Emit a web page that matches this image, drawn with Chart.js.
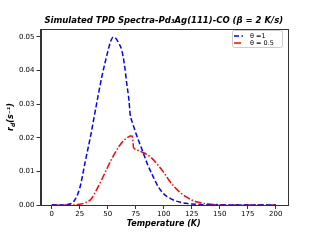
<!DOCTYPE html>
<html lang="en">

<head>
  <meta charset="UTF-8">
  <title>TPD spectra</title>
  <script src="https://cdn.jsdelivr.net/npm/chart.js"></script>
  <style>
    html, body { margin: 0; padding: 0; background: #fff; }
    #wrap { width: 320px; height: 240px; }
  </style>
</head>

<body>
  <div id="wrap"><canvas id="tpdChart" width="320" height="240"></canvas></div>

  <script>
    // temperatures (K) shared by both curves
    const temps = [0, 5, 10, 15, 20, 25, 30, 35, 40, 45, 50,
      52.5, 55, 57.5, 60, 62.5, 65,
      67, 69, 70, 71, 72, 73, 74, 76,
      80, 85, 90, 95, 100, 105, 110, 115, 120, 125, 130, 135, 140,
      150, 160, 170, 180, 190, 200];
    // desorption rate, theta = 1
    const rateTheta1 = [0, 0, 0, 0.0002, 0.0012, 0.005, 0.013, 0.021, 0.030, 0.0385, 0.0455,
      0.0485, 0.0499, 0.0494, 0.048, 0.046, 0.0415,
      0.036, 0.031, 0.027, 0.0255, 0.0245, 0.0235, 0.0225, 0.0205,
      0.017, 0.0125, 0.0088, 0.0055, 0.0033, 0.0021, 0.0013, 0.0008, 0.0005, 0.0003, 0.0002, 0.0001, 0,
      0, 0, 0, 0, 0, 0];
    // desorption rate, theta = 0.5
    const rateTheta05 = [0, 0, 0, 0, 0, 0.0002, 0.0007, 0.0017, 0.0045, 0.0078, 0.0113,
      0.013, 0.0146, 0.016, 0.0174, 0.0185, 0.0194,
      0.0199, 0.0203, 0.0205, 0.0205, 0.0204, 0.0172, 0.0167, 0.0164,
      0.0158, 0.015, 0.0137, 0.0118, 0.0097, 0.0072, 0.0052, 0.0036, 0.0024, 0.0015, 0.0009, 0.0005, 0.0003,
      0.0001, 0, 0, 0, 0, 0];
    const xTicks = [0, 25, 50, 75, 100, 125, 150, 175, 200];
    const yTicks = [0, 0.01, 0.02, 0.03, 0.04, 0.05];
    const seriesNames = ['θ =1', 'θ = 0.5'];

    const toPts = (xs, ys) => xs.map((x, i) => ({ x: x, y: ys[i] }));
    const FONT = 'DejaVu Sans';

    // frame, title, axis titles and legend, matplotlib style
    const decor = {
      id: 'decor',
      afterDraw(chart) {
        const { ctx, chartArea: a } = chart;
        ctx.save();
        ctx.strokeStyle = '#333';
        ctx.lineWidth = 1;
        ctx.strokeRect(Math.round(a.left) + 0.5, Math.round(a.top) + 0.5,
          Math.round(a.right - a.left), Math.round(a.bottom - a.top));

        // title
        ctx.fillStyle = '#000';
        ctx.textAlign = 'center';
        ctx.textBaseline = 'middle';
        ctx.font = 'italic bold 8.5px ' + FONT;
        ctx.fillText('Simulated TPD Spectra-Pd₃Ag(111)-CO (β = 2 K/s)', (a.left + a.right) / 2, 21);

        // x title
        ctx.font = 'italic bold 8px ' + FONT;
        ctx.fillText('Temperature (K)', (a.left + a.right) / 2, 224);

        // y title with subscript
        ctx.save();
        ctx.translate(11, (a.top + a.bottom) / 2);
        ctx.rotate(-Math.PI / 2);
        ctx.textAlign = 'left';
        const w1 = ctx.measureText('r').width;
        ctx.font = 'italic bold 6px ' + FONT;
        const w2 = ctx.measureText('d').width;
        ctx.font = 'italic bold 8px ' + FONT;
        const w3 = ctx.measureText('(s⁻¹)').width;
        let x0 = -(w1 + w2 + w3) / 2;
        ctx.fillText('r', x0, 0);
        ctx.font = 'italic bold 6px ' + FONT;
        ctx.fillText('d', x0 + w1, 2);
        ctx.font = 'italic bold 8px ' + FONT;
        ctx.fillText('(s⁻¹)', x0 + w1 + w2, 0);
        ctx.restore();

        // legend
        const lx = 232, ly = 30.5, lw = 50, lh = 17;
        ctx.strokeStyle = '#ccc';
        ctx.lineWidth = 1;
        ctx.beginPath();
        ctx.roundRect(lx + 0.5, ly, lw, lh, 2);
        ctx.fillStyle = '#fff';
        ctx.fill();
        ctx.stroke();
        chart.data.datasets.forEach((ds, i) => {
          const yy = ly + 5.5 + i * 7;
          ctx.strokeStyle = ds.borderColor;
          ctx.lineWidth = 1.5;
          ctx.setLineDash(ds.borderDash);
          ctx.beginPath();
          ctx.moveTo(lx + 2, yy);
          ctx.lineTo(lx + 11, yy);
          ctx.stroke();
          ctx.setLineDash([]);
          ctx.fillStyle = '#000';
          ctx.font = '6.5px ' + FONT;
          ctx.textAlign = 'left';
          ctx.fillText(ds.label, lx + 18, yy);
        });
        ctx.restore();
      }
    };

    const ctx = document.getElementById('tpdChart').getContext('2d');
    const tpdChart = new Chart(ctx, {
      type: 'line',
      data: {
        datasets: [{
          label: seriesNames[0],
          data: toPts(temps, rateTheta1),
          borderColor: '#0000ff',
          borderWidth: 1.5,
          borderDash: [5, 2.5],
          pointRadius: 0,
          cubicInterpolationMode: 'monotone',
          fill: false
        }, {
          label: seriesNames[1],
          data: toPts(temps, rateTheta05),
          borderColor: '#ff0000',
          borderWidth: 1.5,
          borderDash: [7, 2, 1.5, 2],
          pointRadius: 0,
          cubicInterpolationMode: 'monotone',
          fill: false
        }]
      },
      options: {
        responsive: false,
        animation: false,
        layout: { padding: { top: 29, right: 33, left: 0, bottom: 0 } },
        plugins: {
          legend: { display: false },
          tooltip: { enabled: false }
        },
        scales: {
          x: {
            type: 'linear',
            min: -10,
            max: 210,
            afterBuildTicks: s => { s.ticks = xTicks.map(v => ({ value: v })); },
            afterFit: s => { s.height = 35; },
            grid: { drawOnChartArea: false, drawTicks: true, tickLength: 4, color: '#333' },
            border: { color: '#333', width: 1 },
            ticks: { color: '#000', font: { family: FONT, size: 7 }, padding: 1, maxRotation: 0 }
          },
          y: {
            type: 'linear',
            min: 0,
            max: 0.0523,
            afterBuildTicks: s => { s.ticks = yTicks.map(v => ({ value: v })); },
            afterFit: s => { s.width = 40.5; },
            grid: { drawOnChartArea: false, drawTicks: true, tickLength: 4, color: '#333' },
            border: { color: '#333', width: 1 },
            ticks: {
              color: '#000', font: { family: FONT, size: 7 }, padding: 2,
              callback: v => v.toFixed(2)
            }
          }
        }
      },
      plugins: [decor]
    });
  </script>
</body>

</html>
